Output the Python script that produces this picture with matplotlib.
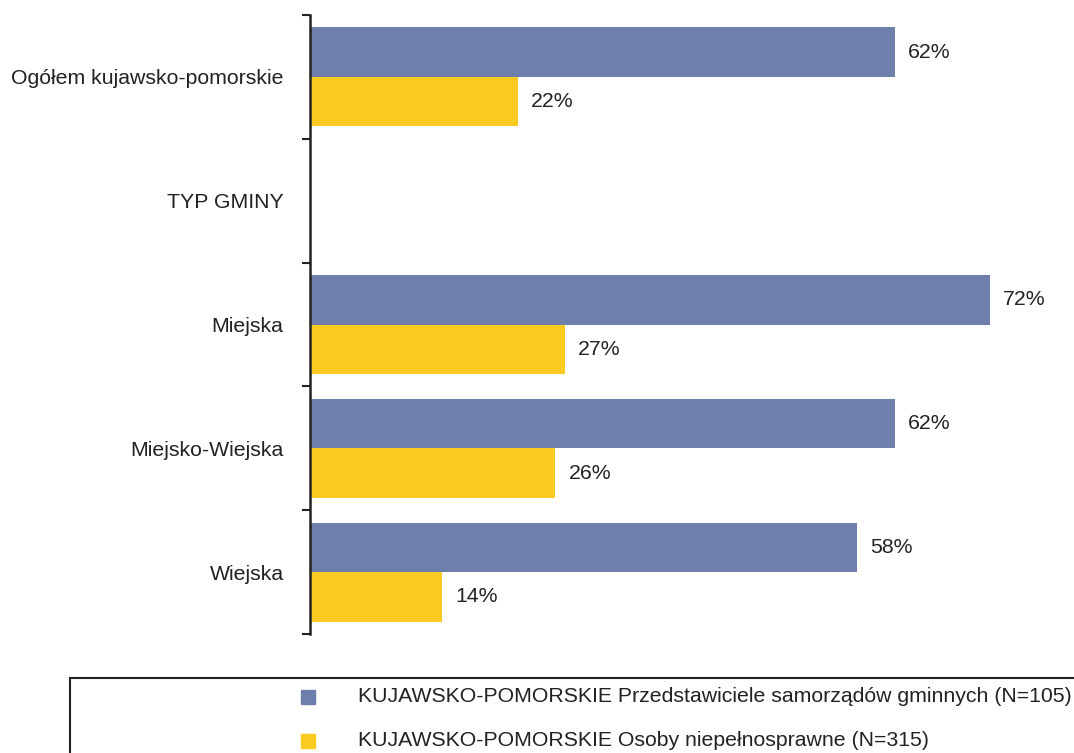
import matplotlib.pyplot as plt
import matplotlib.patches as mpatches
import numpy as np

plt.rcParams['font.family'] = ['Liberation Sans', 'DejaVu Sans']

categories = ['Ogółem kujawsko-pomorskie', 'TYP GMINY', 'Miejska', 'Miejsko-Wiejska', 'Wiejska']
samorzady = [62, None, 72, 62, 58]
niepelnosprawni = [22, None, 27, 26, 14]
series_names = ['KUJAWSKO-POMORSKIE Przedstawiciele samorządów gminnych (N=105)',
                'KUJAWSKO-POMORSKIE Osoby niepełnosprawne (N=315)']
colors = ['#6F7FAB', '#FBCB22']
txt = '#222222'
fs = 15.3

W, H = 1074, 753
fig = plt.figure(figsize=(W / 100, H / 100), dpi=100)
ax = fig.add_axes([310 / W, 1 - 634 / H, 755 / W, 619 / H])

y = np.arange(len(categories))
h = 0.4
for i, (a, b) in enumerate(zip(samorzady, niepelnosprawni)):
    if a is None:
        continue
    ax.barh(y[i] - h / 2, a, height=h, color=colors[0])
    ax.barh(y[i] + h / 2, b, height=h, color=colors[1])
    ax.text(a + 1.4, y[i] - h / 2, f'{a}%', va='center', ha='left', fontsize=fs, color=txt)
    ax.text(b + 1.4, y[i] + h / 2, f'{b}%', va='center', ha='left', fontsize=fs, color=txt)

ax.set_xlim(0, 80)
ax.set_ylim(len(categories) - 0.5, -0.5)
ax.set_yticks(y)
ax.set_yticklabels(categories, fontsize=fs, color=txt)
ax.tick_params(axis='y', which='major', length=0, pad=19)
ax.set_yticks(np.arange(len(categories) + 1) - 0.5, minor=True)
ax.tick_params(axis='y', which='minor', length=6, width=1.5, color=txt)
ax.set_xticks([])
for s in ['top', 'right', 'bottom']:
    ax.spines[s].set_visible(False)
ax.spines['left'].set_linewidth(1.8)
ax.spines['left'].set_color(txt)

# legend box
box = mpatches.Rectangle((70 / W, -0.05), 1.1, 0.05 + (H - 678) / H,
                         transform=fig.transFigure, fill=False, edgecolor=txt,
                         linewidth=1.5, clip_on=False)
fig.patches.append(box)
for k, (name, c) in enumerate(zip(series_names, colors)):
    yc = 697 + 44 * k
    fig.patches.append(mpatches.Rectangle((301 / W, 1 - (yc + 7) / H), 14 / W, 14 / H,
                                          transform=fig.transFigure, color=c))
    fig.text(358 / W, 1 - yc / H, name, va='center', ha='left', fontsize=fs, color=txt)

fig.savefig('out.png', dpi=100)
